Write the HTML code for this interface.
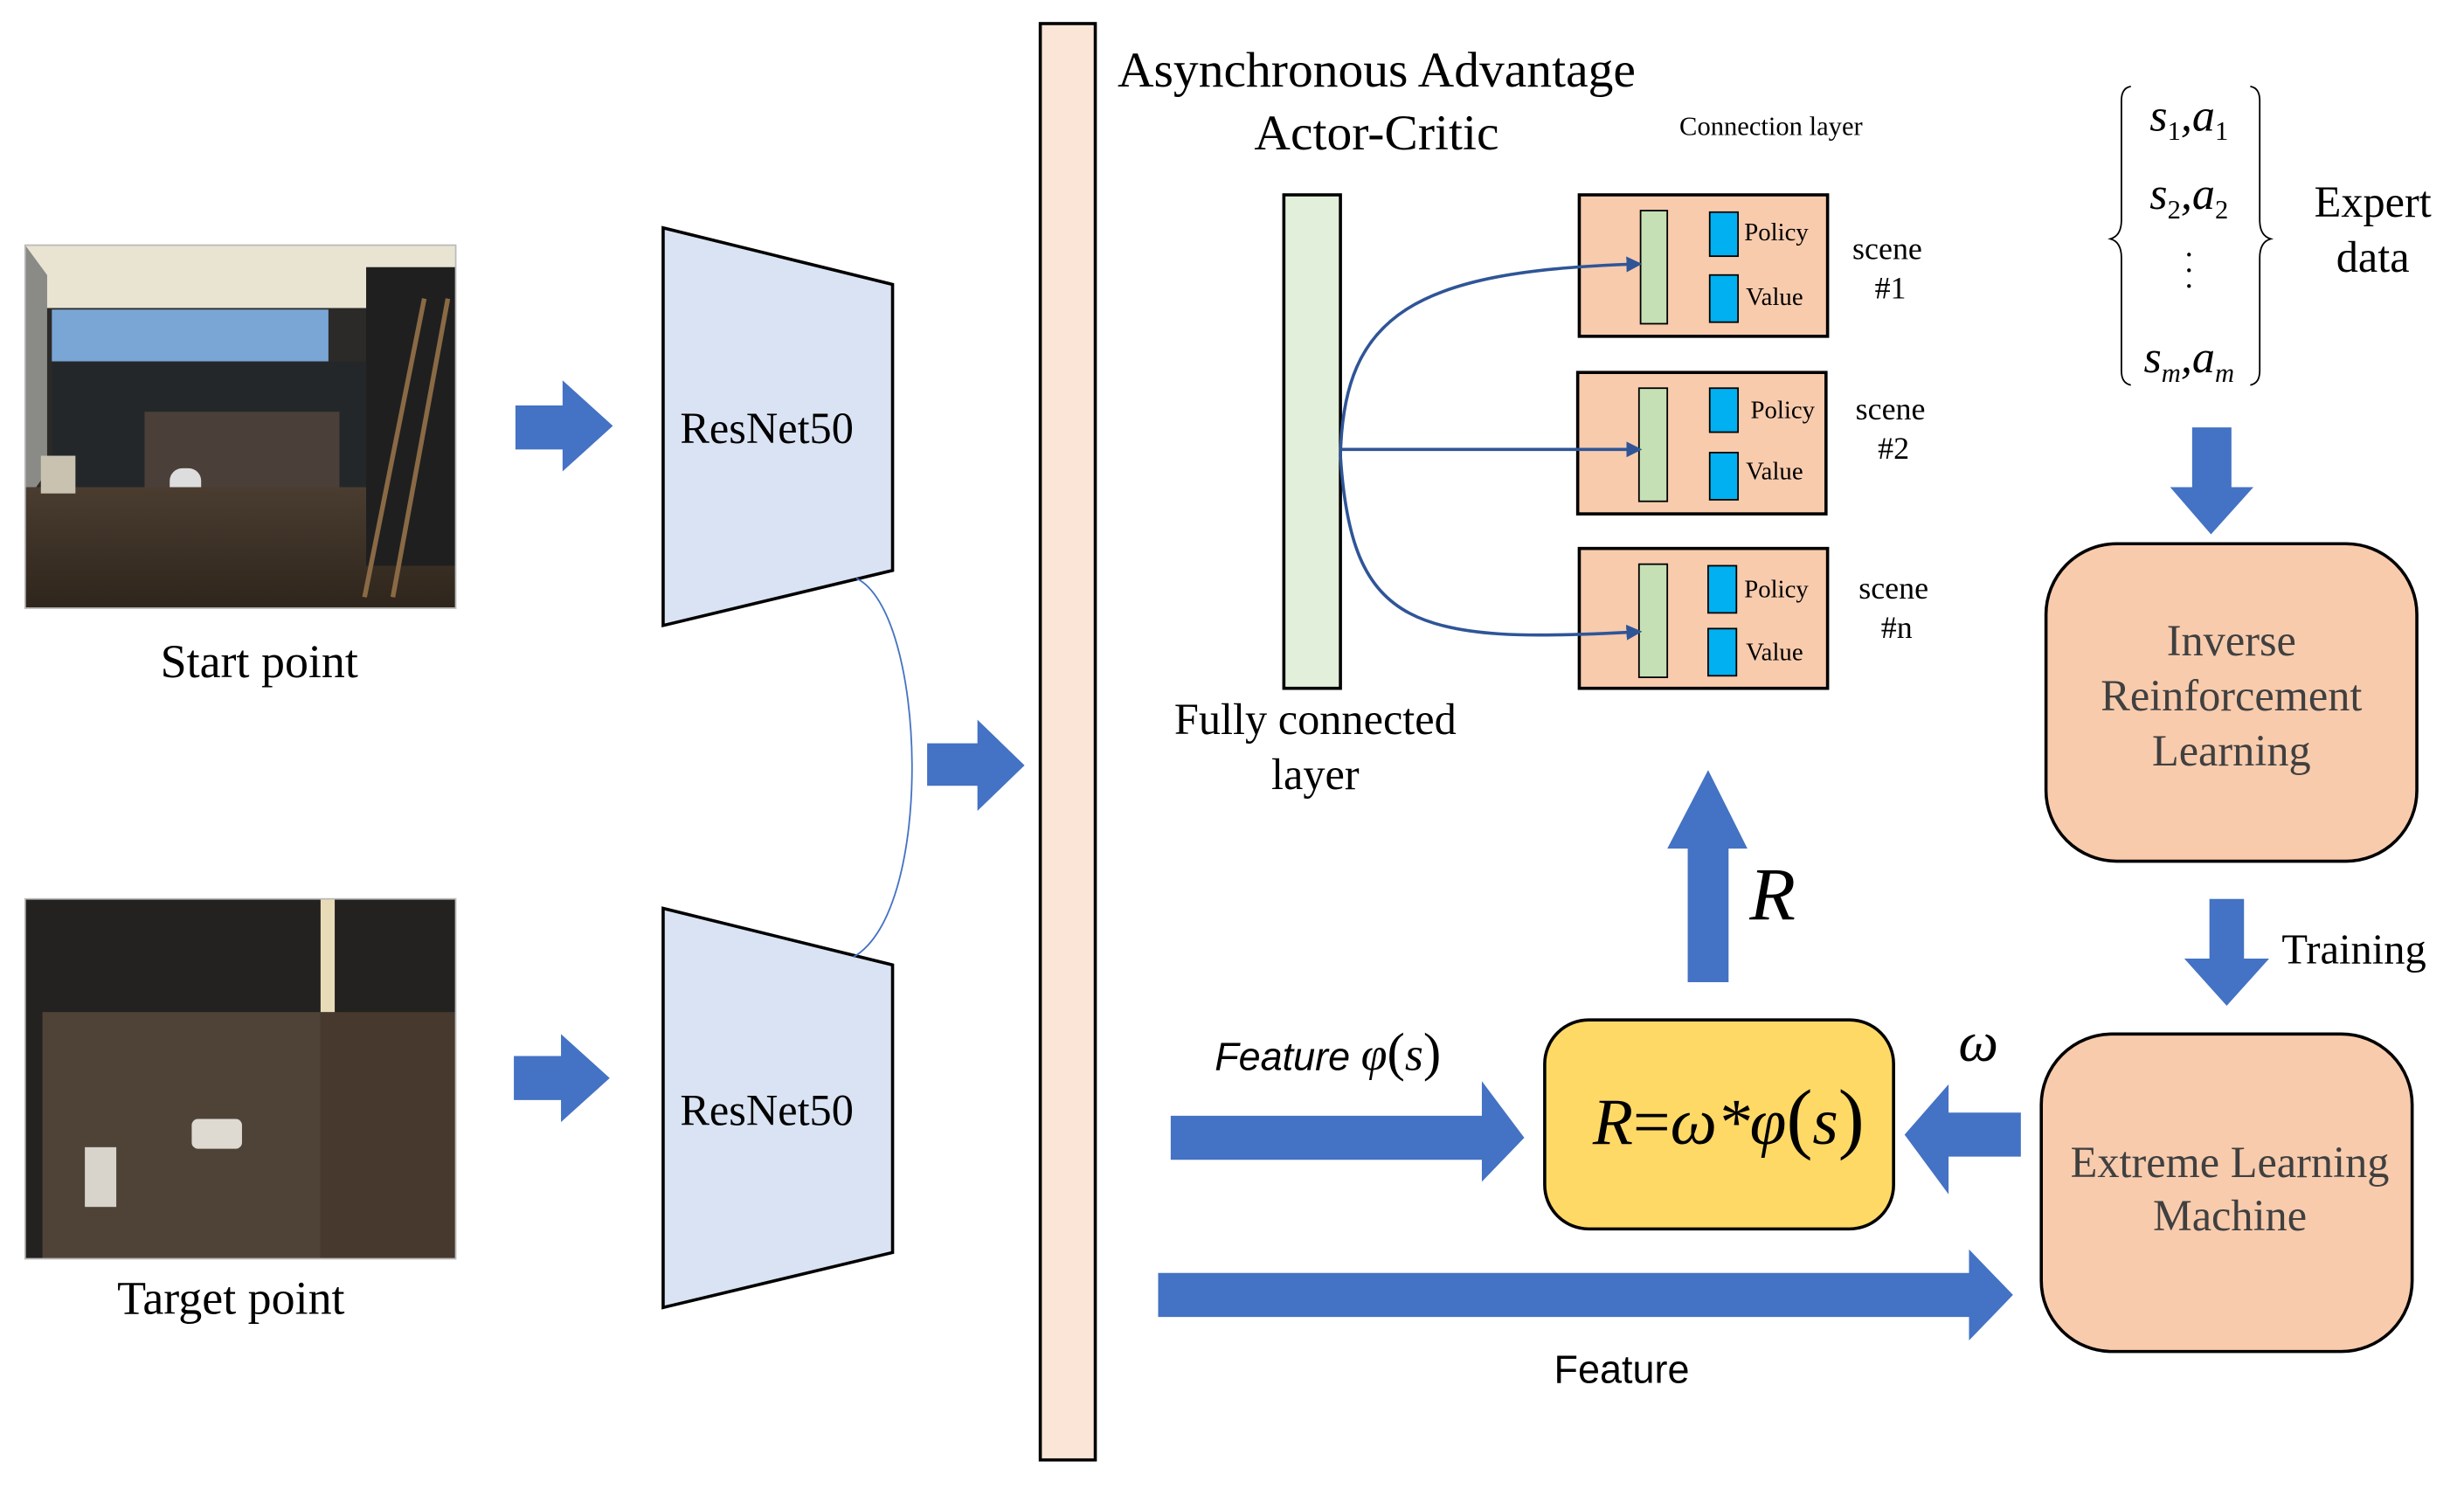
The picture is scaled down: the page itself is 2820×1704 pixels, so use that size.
<!DOCTYPE html>
<html><head><meta charset="utf-8"><style>html,body{margin:0;padding:0;background:#fff}svg{display:block}</style></head>
<body>
<svg width="2820" height="1704" viewBox="0 0 1568 947.5" preserveAspectRatio="none" xmlns="http://www.w3.org/2000/svg" font-family="'Liberation Serif', serif">
<defs>
<linearGradient id="fl" x1="0" y1="0" x2="0" y2="1"><stop offset="0" stop-color="#4a3d30"/><stop offset="1" stop-color="#2e251c"/></linearGradient>
<marker id="ah" markerWidth="10" markerHeight="10" refX="8" refY="5" orient="auto" markerUnits="userSpaceOnUse"><path d="M0,0 L10,5 L0,10 Z" fill="#2F5597"/></marker>
</defs>
<rect x="16" y="156" width="274" height="231" fill="#2b2a28"/>
<rect x="16" y="156" width="274" height="40" fill="#e9e4d2"/>
<polygon points="16,156 30,175 30,300 16,320" fill="#8a8a86"/>
<rect x="33" y="197" width="176" height="33" fill="#7aa6d6"/>
<rect x="33" y="230" width="200" height="80" fill="#24272a"/>
<rect x="92" y="262" width="124" height="50" fill="#4a4039"/>
<rect x="108" y="298" width="20" height="28" rx="8" fill="#ddd"/>
<rect x="16" y="310" width="274" height="77" fill="url(#fl)"/>
<rect x="233" y="170" width="57" height="190" fill="#1f1f1f"/>
<line x1="232" y1="380" x2="270" y2="190" stroke="#8a6a45" stroke-width="3"/>
<line x1="250" y1="380" x2="285" y2="190" stroke="#8a6a45" stroke-width="3"/>
<rect x="26" y="290" width="22" height="24" fill="#c9c2b0"/>
<rect x="16" y="156" width="274" height="231" fill="none" stroke="#bbb" stroke-width="1"/>
<text x="165" y="431" font-size="30" text-anchor="middle">Start point</text>
<rect x="16" y="572" width="274" height="229" fill="#232220"/>
<rect x="27" y="644" width="177" height="157" fill="#4f4338"/>
<rect x="204" y="644" width="86" height="157" fill="#47392e"/>
<rect x="204" y="572" width="9" height="72" fill="#e8dcb8"/>
<rect x="54" y="730" width="20" height="38" fill="#d8d4cc"/>
<rect x="122" y="712" width="32" height="19" rx="4" fill="#dedad2"/>
<rect x="16" y="572" width="274" height="229" fill="none" stroke="#bbb" stroke-width="1"/>
<text x="147" y="836" font-size="30" text-anchor="middle">Target point</text>
<g fill="#4472C4">
<polygon points="328,258 358,258 358,242 390,271 358,300 358,286 328,286"/>
<polygon points="327,672 357,672 357,658 388,686 357,714 357,700 327,700"/>
<polygon points="590,473 622,473 622,458 652,487 622,516 622,500 590,500"/>
<polygon points="1074,625 1100,625 1100,540 1112,540 1087,490 1061,540 1074,540"/>
<polygon points="1395,272 1420,272 1420,310 1434,310 1407,340 1381,310 1395,310"/>
<polygon points="1406,572 1428,572 1428,610 1444,610 1417,640 1390,610 1406,610"/>
<polygon points="745,710 943,710 943,688 970,724 943,752 943,738 745,738"/>
<polygon points="1286,708 1240,708 1240,690 1212,722 1240,760 1240,736 1286,736"/>
<polygon points="737,810 1253,810 1253,795 1281,824 1253,853 1253,838 737,838"/>
</g>
<polygon points="422,145 568,181 568,363 422,398" fill="#DAE3F3" stroke="#000" stroke-width="2"/>
<text x="488" y="282" font-size="28" text-anchor="middle">ResNet50</text>
<polygon points="422,578 568,614 568,797 422,832" fill="#DAE3F3" stroke="#000" stroke-width="2"/>
<text x="488" y="716" font-size="28" text-anchor="middle">ResNet50</text>
<path d="M545,368 C590,390 595,580 543,609" fill="none" stroke="#4472C4" stroke-width="1"/>
<rect x="662" y="15" width="35" height="914" fill="#FBE5D6" stroke="#000" stroke-width="2"/>
<text x="876" y="55" font-size="32" text-anchor="middle">Asynchronous Advantage</text>
<text x="876" y="95" font-size="32" text-anchor="middle">Actor-Critic</text>
<text x="1127" y="86" font-size="17" text-anchor="middle">Connection layer</text>
<rect x="817" y="124" width="36" height="314" fill="#E2EFDA" stroke="#000" stroke-width="2"/>
<text x="837" y="467" font-size="28" text-anchor="middle">Fully connected</text>
<text x="837" y="502" font-size="28" text-anchor="middle">layer</text>
<g stroke="#000">
<rect x="1005" y="124" width="158" height="90" fill="#F8CBAD" stroke-width="2"/>
<rect x="1044" y="134" width="17" height="72" fill="#C5E0B4" stroke-width="1"/>
<rect x="1088" y="135" width="18" height="28" fill="#00B0F0" stroke-width="1"/>
<rect x="1088" y="175" width="18" height="30" fill="#00B0F0" stroke-width="1"/>
<rect x="1004" y="237" width="158" height="90" fill="#F8CBAD" stroke-width="2"/>
<rect x="1043" y="247" width="18" height="72" fill="#C5E0B4" stroke-width="1"/>
<rect x="1088" y="247" width="18" height="28" fill="#00B0F0" stroke-width="1"/>
<rect x="1088" y="288" width="18" height="30" fill="#00B0F0" stroke-width="1"/>
<rect x="1005" y="349" width="158" height="89" fill="#F8CBAD" stroke-width="2"/>
<rect x="1043" y="359" width="18" height="72" fill="#C5E0B4" stroke-width="1"/>
<rect x="1087" y="360" width="18" height="30" fill="#00B0F0" stroke-width="1"/>
<rect x="1087" y="400" width="18" height="30" fill="#00B0F0" stroke-width="1"/>
</g>
<g font-size="16">
<text x="1110" y="153">Policy</text><text x="1111" y="194">Value</text>
<text x="1114" y="266">Policy</text><text x="1111" y="305">Value</text>
<text x="1110" y="380">Policy</text><text x="1111" y="420">Value</text>
</g>
<g font-size="20" text-anchor="middle">
<text x="1201" y="165">scene</text><text x="1203" y="190">#1</text>
<text x="1203" y="267">scene</text><text x="1205" y="292">#2</text>
<text x="1205" y="381">scene</text><text x="1207" y="406">#n</text>
</g>
<g fill="none" stroke="#2F5597" stroke-width="2" marker-end="url(#ah)">
<path d="M853,290 C855,200 900,172 1043,168"/>
<path d="M853,286 L1043,286"/>
<path d="M853,290 C860,400 900,410 1043,402"/>
</g>
<path d="M1356,55 Q1350,56 1350,64 L1350,140 Q1350,150 1343,152 Q1350,154 1350,164 L1350,236 Q1350,244 1356,245" fill="none" stroke="#000" stroke-width="1"/>
<path d="M1432,55 Q1438,56 1438,64 L1438,140 Q1438,150 1445,152 Q1438,154 1438,164 L1438,236 Q1438,244 1432,245" fill="none" stroke="#000" stroke-width="1"/>
<g font-size="29" font-style="italic" text-anchor="middle">
<text x="1393" y="83">s<tspan font-size="17" dy="6" font-style="normal">1</tspan><tspan dy="-6">,a</tspan><tspan font-size="17" dy="6" font-style="normal">1</tspan></text>
<text x="1393" y="133">s<tspan font-size="17" dy="6" font-style="normal">2</tspan><tspan dy="-6">,a</tspan><tspan font-size="17" dy="6" font-style="normal">2</tspan></text>
<text x="1393" y="237">s<tspan font-size="17" dy="6">m</tspan><tspan dy="-6">,a</tspan><tspan font-size="17" dy="6">m</tspan></text>
</g>
<circle cx="1393" cy="162" r="1.2"/><circle cx="1393" cy="172" r="1.2"/><circle cx="1393" cy="182" r="1.2"/>
<text x="1510" y="138" font-size="28" text-anchor="middle">Expert</text>
<text x="1510" y="173" font-size="28" text-anchor="middle">data</text>
<rect x="1302" y="346" width="236" height="202" rx="45" fill="#F8CBAD" stroke="#000" stroke-width="2"/>
<g font-size="28" fill="#404040" text-anchor="middle">
<text x="1420" y="417">Inverse</text><text x="1420" y="452">Reinforcement</text><text x="1420" y="487">Learning</text>
</g>
<text x="1452" y="613" font-size="27">Training</text>
<rect x="1299" y="658" width="236" height="202" rx="45" fill="#F8CBAD" stroke="#000" stroke-width="2"/>
<g font-size="28" fill="#404040" text-anchor="middle">
<text x="1419" y="749">Extreme Learning</text><text x="1419" y="783">Machine</text>
</g>
<rect x="983" y="649" width="222" height="133" rx="28" fill="#FFD966" stroke="#000" stroke-width="2"/>
<text x="1100" y="728" font-size="42" font-style="italic" text-anchor="middle">R<tspan font-style="normal">=</tspan>ω*φ<tspan font-style="normal" font-size="50">(</tspan>s<tspan font-style="normal" font-size="50">)</tspan></text>
<text x="1128" y="585" font-size="48" font-style="italic" text-anchor="middle">R</text>
<text x="1259" y="675" font-size="36" font-style="italic" text-anchor="middle">ω</text>
<text x="845" y="681" font-size="27" text-anchor="middle"><tspan font-family="'Liberation Sans', sans-serif" font-style="italic" font-size="25">Feature </tspan><tspan font-style="italic" font-size="30">φ</tspan><tspan font-size="34">(</tspan><tspan font-style="italic" font-size="30">s</tspan><tspan font-size="34">)</tspan></text>
<text x="1032" y="880" font-size="25" font-family="'Liberation Sans', sans-serif" text-anchor="middle">Feature</text>
</svg>
</body></html>
